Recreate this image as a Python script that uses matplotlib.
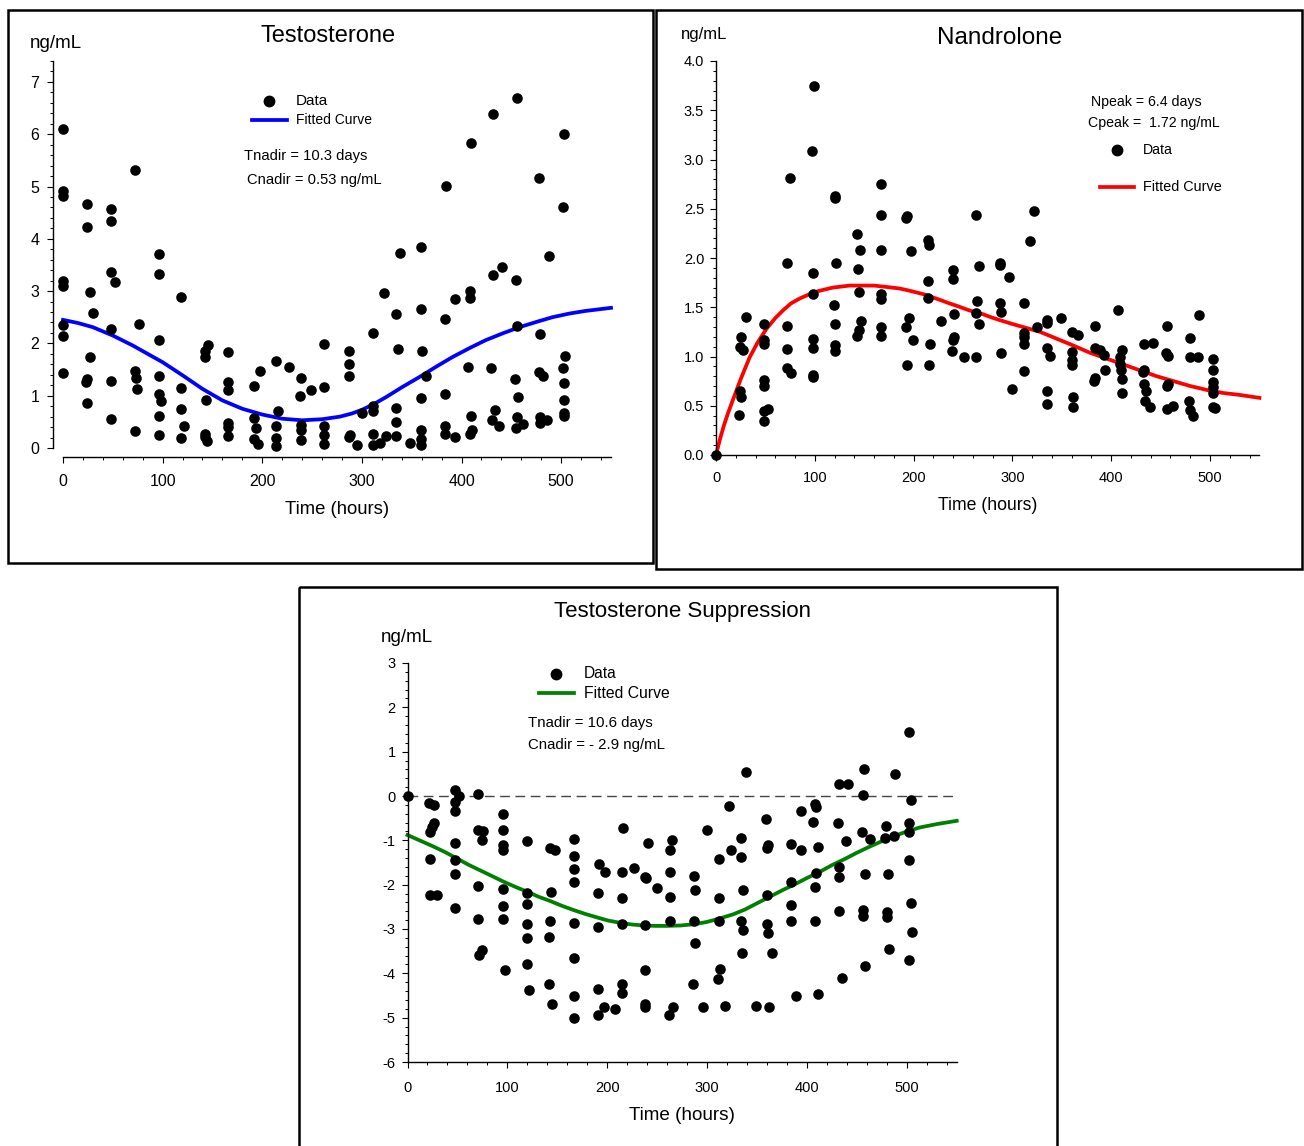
import matplotlib
matplotlib.use("Agg")
import matplotlib.pyplot as plt
from matplotlib.patches import Rectangle
from matplotlib.lines import Line2D
from matplotlib.ticker import MultipleLocator, FormatStrFormatter

plt.rcParams['font.family'] = ['Liberation Sans', 'DejaVu Sans']
plt.rcParams['axes.unicode_minus'] = False

# ---------------- data: Testosterone ----------------
t_testo = [0, 0, 0, 0, 0, 0, 0, 0,
           24, 24, 27, 30, 27, 24, 23, 24,
           48, 48, 48, 52, 48, 48, 48,
           72, 76, 72, 73, 74, 72,
           96, 96, 96, 96, 96, 98, 96, 96,
           118, 118, 118, 121, 118,
           146, 143, 143, 144, 143, 143, 145,
           166, 166, 166, 166, 166, 166,
           192, 192, 194, 192, 196, 198,
           214, 216, 214, 214, 214, 227,
           239, 238, 239, 239, 239, 249,
           262, 262, 262, 262, 262,
           287, 287, 287, 288, 287, 295,
           311, 311, 311, 311, 311, 300, 318, 324,
           334, 336, 334, 334, 334, 322, 338, 348,
           359, 359, 360, 359, 359, 359, 359, 364,
           384, 383, 383, 383, 383, 393, 393,
           409, 408, 408, 406, 409, 410, 408,
           432, 432, 430, 434, 431, 438, 441,
           456, 455, 456, 454, 457, 456, 462, 455,
           478, 479, 478, 482, 479, 486, 479, 488,
           503, 502, 504, 502, 503, 503, 503, 503]
c_testo = [6.10, 4.92, 4.82, 3.19, 3.09, 2.36, 2.15, 1.44,
           4.66, 4.22, 2.98, 2.59, 1.74, 1.32, 1.26, 0.86,
           4.57, 4.35, 3.36, 3.17, 2.27, 1.29, 0.56,
           5.32, 2.38, 1.48, 1.34, 1.13, 0.32,
           3.71, 3.32, 2.06, 1.38, 1.04, 0.89, 0.61, 0.25,
           2.89, 1.14, 0.75, 0.43, 0.19,
           1.96, 1.85, 1.74, 0.91, 0.27, 0.21, 0.13,
           1.83, 1.26, 1.10, 0.48, 0.40, 0.23,
           1.18, 0.58, 0.39, 0.17, 0.07, 1.47,
           1.67, 0.70, 0.43, 0.20, 0.04, 1.55,
           1.34, 0.99, 0.44, 0.34, 0.15, 1.10,
           1.99, 1.17, 0.42, 0.24, 0.08,
           1.85, 1.60, 1.38, 0.24, 0.21, 0.05,
           2.20, 0.80, 0.70, 0.27, 0.05, 0.66, 0.10, 0.23,
           2.56, 1.89, 0.76, 0.49, 0.23, 2.96, 3.73, 0.10,
           3.85, 2.65, 1.85, 0.96, 0.34, 0.18, 0.05, 1.38,
           5.01, 2.47, 1.04, 0.43, 0.27, 2.84, 0.21,
           5.84, 3.01, 2.87, 1.55, 0.61, 0.35, 0.27,
           6.38, 3.30, 1.53, 0.72, 0.53, 0.43, 3.46,
           6.69, 3.21, 2.34, 1.31, 0.97, 0.59, 0.46, 0.38,
           5.16, 2.18, 1.45, 1.38, 0.59, 0.53, 0.48, 3.68,
           6.01, 4.61, 1.76, 1.53, 1.24, 0.91, 0.67, 0.62]
fit_t_testo = [0, 15, 30, 50, 70, 85, 100, 120, 140, 160, 180, 200, 220, 240, 260, 278,
               290, 300, 312, 324, 340, 358, 375, 391, 408, 424, 441, 458, 475, 491, 508, 524, 537, 550]
fit_c_testo = [2.45, 2.39, 2.31, 2.15, 1.96, 1.80, 1.64, 1.39, 1.13, 0.91, 0.75, 0.64, 0.56, 0.53, 0.55, 0.60,
               0.66, 0.73, 0.84, 0.97, 1.16, 1.36, 1.56, 1.74, 1.91, 2.06, 2.19, 2.31, 2.41, 2.50, 2.57, 2.62, 2.65, 2.68]

# ---------------- data: Nandrolone ----------------
t_nandro = [0,
            25, 24, 27, 30, 24, 25, 23,
            49, 49, 49, 49, 49, 53, 49, 49,
            75, 72, 72, 72, 72, 76,
            99, 97, 98, 98, 98, 98, 98, 98,
            120, 120, 121, 119, 120, 120, 120,
            143, 146, 144, 145, 147, 145, 143,
            167, 167, 167, 167, 167, 167, 167,
            193, 192, 197, 195, 192, 199, 193,
            215, 216, 215, 215, 217, 216, 228,
            240, 240, 241, 241, 240, 239, 251,
            263, 266, 264, 263, 266, 263,
            287, 287, 287, 288, 288, 297, 300,
            322, 318, 312, 325, 312, 312, 312, 312,
            349, 335, 335, 335, 338, 335, 335,
            360, 366, 360, 360, 360, 361, 361,
            384, 384, 389, 393, 394, 384, 383,
            407, 411, 409, 409, 410, 411, 411,
            433, 442, 433, 432, 433, 435, 434, 439,
            456, 455, 457, 457, 456, 456, 463,
            489, 480, 480, 488, 479, 480, 483,
            503, 503, 503, 503, 503, 503, 505]
c_nandro = [0.0,
            1.20, 1.10, 1.07, 1.40, 0.65, 0.59, 0.41,
            1.33, 1.17, 1.13, 0.76, 0.70, 0.47, 0.45, 0.35,
            2.81, 1.95, 1.31, 1.08, 0.88, 0.83,
            3.75, 3.09, 1.85, 1.63, 1.18, 1.09, 0.81, 0.79,
            2.63, 2.61, 1.95, 1.52, 1.33, 1.12, 1.06,
            2.24, 2.08, 1.89, 1.65, 1.36, 1.27, 1.21,
            2.75, 2.44, 2.08, 1.63, 1.58, 1.30, 1.21,
            2.43, 2.41, 2.07, 1.39, 1.30, 1.17, 0.91,
            2.18, 2.13, 1.77, 1.59, 1.13, 0.91, 1.36,
            1.88, 1.79, 1.43, 1.20, 1.17, 1.06, 1.00,
            2.44, 1.92, 1.56, 1.44, 1.33, 0.99,
            1.95, 1.93, 1.54, 1.45, 1.04, 1.81, 0.67,
            2.48, 2.17, 1.54, 1.30, 1.24, 1.20, 1.13, 0.85,
            1.39, 1.37, 1.34, 1.09, 1.01, 0.65, 0.52,
            1.25, 1.22, 1.05, 0.96, 0.91, 0.59, 0.49,
            1.31, 1.09, 1.07, 1.02, 0.86, 0.78, 0.75,
            1.47, 1.07, 1.00, 0.92, 0.86, 0.77, 0.63,
            1.13, 1.14, 0.86, 0.84, 0.72, 0.65, 0.55, 0.49,
            1.31, 1.04, 1.01, 0.72, 0.70, 0.47, 0.50,
            1.42, 1.19, 0.99, 0.99, 0.55, 0.46, 0.40,
            0.97, 0.86, 0.74, 0.69, 0.63, 0.49, 0.48]
fit_t_nandro = [0, 4, 8, 12, 17.5, 25, 34, 42, 51, 60, 68, 76, 85, 94, 102, 110, 118.5, 127, 135, 144,
                152, 160, 169, 178, 186, 195, 203, 211, 219.5, 228, 236, 245, 253, 262, 270, 278, 287,
                300, 314, 328, 345, 362, 378, 395, 412, 429, 446, 463, 480, 497, 513, 530, 550]
fit_c_nandro = [0.0, 0.16, 0.30, 0.42, 0.57, 0.77, 0.99, 1.14, 1.28, 1.39, 1.47, 1.54, 1.59, 1.63, 1.66, 1.68,
                1.70, 1.71, 1.72, 1.72, 1.72, 1.72, 1.71, 1.70, 1.69, 1.67, 1.65, 1.63, 1.60, 1.57, 1.54,
                1.51, 1.48, 1.45, 1.43, 1.40, 1.37, 1.33, 1.29, 1.25, 1.18, 1.11, 1.04, 0.98, 0.92, 0.86,
                0.80, 0.75, 0.70, 0.66, 0.63, 0.61, 0.58]

# ---------------- data: Testosterone Suppression ----------------
t_supp = [0,
          22, 27, 27, 25, 23, 23, 23, 30,
          48, 52, 48, 48, 48, 48, 48, 48,
          71, 71, 76, 75, 71, 71, 75, 72,
          96, 96, 96, 96, 96, 96, 96, 98,
          120, 120, 120, 120, 120, 120, 122,
          143, 148, 144, 143, 142, 142, 145,
          167, 167, 167, 167, 167, 167, 167, 167,
          192, 198, 191, 191, 191, 191, 197, 208,
          216, 215, 215, 215, 215, 215, 227,
          241, 238, 239, 238, 238, 238, 238, 250,
          265, 263, 263, 263, 263, 266, 262,
          287, 288, 287, 288, 286, 296, 300,
          312, 312, 312, 313, 311, 318, 322, 324,
          339, 334, 334, 336, 334, 336, 335, 349,
          359, 361, 360, 360, 360, 361, 365, 362,
          394, 384, 394, 384, 384, 384, 389,
          408, 409, 406, 411, 409, 408, 408, 411,
          432, 441, 431, 439, 432, 432, 432, 435,
          457, 456, 455, 463, 458, 456, 456, 458,
          488, 479, 478, 487, 481, 480, 480, 482,
          502, 504, 502, 502, 502, 504, 505, 502]
c_supp = [0.0,
          -0.15, -0.21, -0.62, -0.70, -0.81, -1.43, -2.23, -2.23,
          0.14, 0.00, -0.13, -0.34, -1.07, -1.45, -1.75, -2.52,
          0.05, -0.77, -0.79, -1.00, -2.02, -2.78, -3.47, -3.58,
          -0.40, -0.77, -1.11, -1.22, -2.10, -2.48, -2.78, -3.93,
          -1.01, -2.18, -2.43, -2.89, -3.21, -3.78, -4.38,
          -1.17, -1.22, -2.16, -2.83, -3.18, -4.25, -4.70,
          -0.96, -1.35, -1.65, -1.93, -2.87, -3.66, -4.52, -5.00,
          -1.54, -1.72, -2.19, -2.96, -4.35, -4.93, -4.76, -4.80,
          -0.73, -1.71, -2.31, -2.88, -4.25, -4.44, -1.63,
          -1.07, -1.82, -1.86, -2.91, -3.93, -4.70, -4.76, -2.08,
          -1.00, -1.21, -1.71, -2.27, -2.82, -4.76, -4.93,
          -1.81, -2.13, -2.81, -3.32, -4.25, -4.76, -0.77,
          -1.43, -2.31, -2.83, -3.90, -4.12, -4.73, -0.23, -1.21,
          0.54, -0.94, -1.38, -2.12, -2.83, -3.03, -3.54, -4.73,
          -0.53, -1.11, -1.18, -2.23, -2.89, -3.08, -3.54, -4.76,
          -0.34, -1.09, -1.22, -1.93, -2.45, -2.83, -4.52,
          -0.17, -0.25, -0.59, -1.16, -1.73, -2.05, -2.82, -4.46,
          0.28, 0.28, -0.61, -1.01, -1.61, -1.82, -2.59, -4.10,
          0.60, 0.03, -0.82, -0.98, -1.77, -2.57, -2.70, -3.83,
          0.50, -0.68, -0.94, -0.91, -1.77, -2.61, -2.73, -3.45,
          1.44, -0.10, -0.61, -0.81, -1.45, -2.42, -3.06, -3.69]
fit_t_supp = [0, 13, 26, 38, 49.5, 61, 73, 85, 96, 108, 120, 131, 143, 155, 166, 178, 190, 201, 213,
              225, 237, 248, 260, 274, 288, 300, 313, 326, 338, 350, 363, 375, 388, 400, 413, 425,
              438, 450, 463, 475, 488, 500, 513, 531, 550]
fit_c_supp = [-0.88, -1.01, -1.14, -1.27, -1.41, -1.55, -1.68, -1.81, -1.93, -2.05, -2.16, -2.27, -2.37,
              -2.48, -2.57, -2.66, -2.74, -2.81, -2.86, -2.90, -2.92, -2.93, -2.93, -2.92, -2.89,
              -2.84, -2.76, -2.67, -2.56, -2.42, -2.27, -2.13, -1.99, -1.85, -1.71, -1.56, -1.42,
              -1.28, -1.14, -1.02, -0.90, -0.80, -0.71, -0.63, -0.56]

W, H = 1304, 1146
fig = plt.figure(figsize=(W / 100, H / 100), dpi=100)


def axes_px(x0, x1, y_bottom, y_top):
    return [x0 / W, 1 - y_bottom / H, (x1 - x0) / W, (y_bottom - y_top) / H]


def style(ax, xmaj, xmin, ymaj, ymin, lsize, xpad, ypad):
    for s in ('top', 'right'):
        ax.spines[s].set_visible(False)
    for s in ('left', 'bottom'):
        ax.spines[s].set_linewidth(1.0)
    ax.xaxis.set_major_locator(MultipleLocator(xmaj))
    ax.xaxis.set_minor_locator(MultipleLocator(xmin))
    ax.yaxis.set_major_locator(MultipleLocator(ymaj))
    ax.yaxis.set_minor_locator(MultipleLocator(ymin))
    ax.tick_params(which='major', direction='out', length=4.5, width=0.8, labelsize=lsize)
    ax.tick_params(which='minor', direction='out', length=2.5, width=0.7)
    ax.tick_params(axis='x', pad=xpad)
    ax.tick_params(axis='y', pad=ypad)
    ax.patch.set_alpha(0)


# ---- Panel 1 ----
ax1 = fig.add_axes(axes_px(63, 611, 448, 61))
ax1.set_xlim(0, 550)
ax1.set_ylim(0, 7.4)
style(ax1, 100, 20, 1, 0.2, 11.5, 8, 5)
ax1.spines['left'].set_position(('outward', 7.5))
ax1.spines['bottom'].set_position(('outward', 6.5))
ax1.spines['left'].set_bounds(0, 7.4)
ax1.spines['bottom'].set_bounds(0, 550)
ax1.plot(fit_t_testo, fit_c_testo, color='#0000FF', lw=2.7, zorder=2, clip_on=False)
ax1.scatter(t_testo, c_testo, s=58, color='black', zorder=3, clip_on=False, linewidths=0)

# ---- Panel 2 ----
ax2 = fig.add_axes(axes_px(716, 1259.4, 455, 61))
ax2.set_xlim(0, 550)
ax2.set_ylim(0, 4.0)
style(ax2, 100, 20, 0.5, 0.1, 10.5, 7, 4)
ax2.yaxis.set_major_formatter(FormatStrFormatter('%.1f'))
ax2.plot(fit_t_nandro, fit_c_nandro, color='#FF0000', lw=2.7, zorder=2, clip_on=False)
ax2.scatter(t_nandro, c_nandro, s=58, color='black', zorder=3, clip_on=False, linewidths=0)

# ---- Panel 3 ----
ax3 = fig.add_axes(axes_px(407.5, 956.7, 1062, 663))
ax3.set_xlim(0, 550)
ax3.set_ylim(-6, 3)
style(ax3, 100, 20, 1, 0.2, 10.5, 9, 4)
ax3.axhline(0, color='#444444', lw=1.0, dashes=(7, 4), zorder=1)
ax3.plot(fit_t_supp, fit_c_supp, color='#008000', lw=2.7, zorder=2, clip_on=False)
ax3.scatter(t_supp, c_supp, s=58, color='black', zorder=3, clip_on=False, linewidths=0)

# ---- overlay for frames, titles and annotations (pixel coords) ----
ov = fig.add_axes([0, 0, 1, 1])
ov.set_xlim(0, W)
ov.set_ylim(H, 0)
ov.axis('off')
ov.patch.set_alpha(0)

for (x0, y0, x1, y1) in [(8, 10, 653, 563), (656, 10, 1302, 569), (299, 587, 1057, 1150)]:
    ov.add_patch(Rectangle((x0, y0), x1 - x0, y1 - y0, fill=False, ec='black', lw=1.8, clip_on=False))


def txt(x, y, s, size, ha='left'):
    ov.text(x, y, s, fontsize=size, ha=ha, va='center', color='black')


# panel 1 texts
txt(328, 36, 'Testosterone', 17, 'center')
txt(30, 43, 'ng/mL', 13.5)
txt(337, 509, 'Time (hours)', 13.3, 'center')
ov.plot([269], [101], 'o', color='black', ms=7.5)
txt(296, 101, 'Data', 11)
ov.add_line(Line2D([252, 287], [120, 120], color='#0000FF', lw=2.7))
txt(296, 120, 'Fitted Curve', 10)
txt(244, 156, 'Tnadir = 10.3 days', 10.6)
txt(247, 180, 'Cnadir = 0.53 ng/mL', 10.6)

# panel 2 texts
txt(1000, 38, 'Nandrolone', 17.5, 'center')
txt(681, 35, 'ng/mL', 12)
txt(988, 505, 'Time (hours)', 12.7, 'center')
txt(1091, 102, 'Npeak = 6.4 days', 10.2)
txt(1088, 123, 'Cpeak =  1.72 ng/mL', 10.2)
ov.plot([1117], [150], 'o', color='black', ms=7.5)
txt(1143, 150, 'Data', 10.2)
ov.add_line(Line2D([1100, 1134], [187, 187], color='#FF0000', lw=2.7))
txt(1143, 187, 'Fitted Curve', 10.4)

# panel 3 texts
txt(683, 612, 'Testosterone Suppression', 16, 'center')
txt(381, 637, 'ng/mL', 13.5)
txt(682, 1115, 'Time (hours)', 13.6, 'center')
ov.plot([556], [674], 'o', color='black', ms=7.5)
txt(584, 674, 'Data', 11.2)
ov.add_line(Line2D([539, 574], [693, 693], color='#008000', lw=2.7))
txt(584, 693, 'Fitted Curve', 11.3)
txt(528, 723, 'Tnadir = 10.6 days', 10.8)
txt(528, 745, 'Cnadir = - 2.9 ng/mL', 10.8)

fig.savefig('out.png', dpi=100)
